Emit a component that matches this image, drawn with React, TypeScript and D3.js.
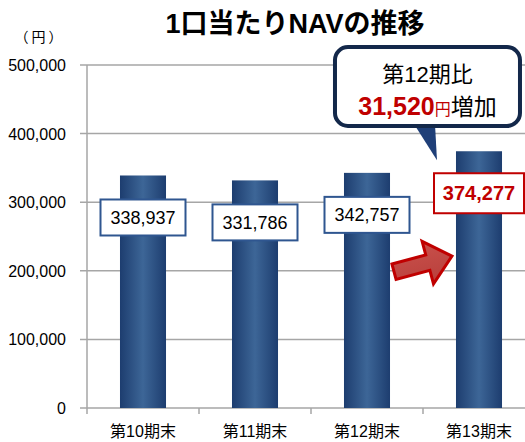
import React from "react";
import * as d3 from "d3";

const categories = ["第10期末", "第11期末", "第12期末", "第13期末"];
const navValues = [338937, 331786, 342757, 374277];
const yTicks = [0, 100000, 200000, 300000, 400000, 500000];
const highlightIndex = 3;
const diffValue = 31520;

const W = 525;
const H = 442;
const FONT = "'Liberation Sans', Arial, 'Noto Sans CJK JP', sans-serif";

export default function App() {
  const left = 87;
  const top = 65;
  const bottom = 408;

  const x = d3
    .scaleBand<string>()
    .domain(categories)
    .range([left, left + 448])
    .paddingInner(0.589)
    .paddingOuter(0.2945);

  const y = d3.scaleLinear().domain([0, 500000]).range([bottom, top]);
  const fmt = d3.format(",");
  const step = x.step();
  const bw = x.bandwidth();

  const hiCat = categories[highlightIndex];
  const hiX = x(hiCat)!;

  // arrow pointing at the last bar
  const arrowPath = "M-30,-8 L5,-8 L5,-22 L30,0 L5,22 L5,8 L-30,8 Z";
  const arrowCx = hiX - 33;
  const arrowCy = y(210000);

  // callout box
  const cb = { x: hiX - 121, y: 47, w: 185, h: 79, r: 13 };
  const tailTipX = hiX - 19;
  const tailTipY = y(374277) + 9;

  return (
    <svg
      width={W}
      height={H}
      style={{ position: "absolute", left: 0, top: 0, background: "#fff" }}
      fontFamily={FONT}
    >
      <defs>
        <linearGradient id="barGrad" x1="0" x2="1" y1="0" y2="0">
          <stop offset="0" stopColor="#1d3d6f" />
          <stop offset="0.5" stopColor="#3d6697" />
          <stop offset="1" stopColor="#1d3d6f" />
        </linearGradient>
        <linearGradient id="arrowGrad" x1="0" x2="0" y1="0" y2="1">
          <stop offset="0" stopColor="#c9504b" />
          <stop offset="1" stopColor="#b8403c" />
        </linearGradient>
      </defs>

      {/* title */}
      <text x={295} y={33} textAnchor="middle" fontSize={27} fontWeight="bold" fill="#000">
        1口当たりNAVの推移
      </text>
      <text
        x={40}
        y={42}
        textAnchor="middle"
        fontSize={14}
        fill="#000"
        fontFamily="'Noto Sans CJK JP', sans-serif"
        style={{ fontFeatureSettings: "'chws' 0, 'halt' 0, 'palt' 0", letterSpacing: "3px" }}
      >
        （円）
      </text>

      {/* gridlines + y axis */}
      {yTicks.map((t) => (
        <g key={t}>
          <line x1={left - 7} x2={W} y1={y(t)} y2={y(t)} stroke="#a6a6a6" strokeWidth={1.5} />
          <text x={66} y={y(t) + 6} textAnchor="end" fontSize={16} fill="#000">
            {fmt(t)}
          </text>
        </g>
      ))}
      <line x1={left} x2={left} y1={top} y2={bottom} stroke="#a6a6a6" strokeWidth={1.5} />
      {categories.map((c, i) => (
        <line
          key={"tk" + i}
          x1={left + i * step}
          x2={left + i * step}
          y1={bottom}
          y2={bottom + 6}
          stroke="#a6a6a6"
          strokeWidth={1.5}
        />
      ))}

      {/* bars */}
      {navValues.map((v, i) => (
        <rect
          key={"b" + i}
          x={x(categories[i])}
          y={y(v)}
          width={bw}
          height={bottom - y(v)}
          fill="url(#barGrad)"
        />
      ))}

      {/* x labels */}
      {categories.map((c) => (
        <text
          key={c}
          x={x(c)! + bw / 2}
          y={437}
          textAnchor="middle"
          fontSize={16}
          fill="#000"
        >
          {c}
        </text>
      ))}

      {/* value labels */}
      {navValues.map((v, i) => {
        const cx = x(categories[i])! + bw / 2;
        const cy = y(v) + 42;
        const hi = i === highlightIndex;
        const bwid = hi ? 90 : 85;
        const bh = hi ? 40 : 36;
        return (
          <g key={"l" + i}>
            <rect
              x={cx - bwid / 2}
              y={cy - bh / 2}
              width={bwid}
              height={bh}
              fill="#fff"
              stroke={hi ? "#c00000" : "#2f5690"}
              strokeWidth={2}
            />
            <text
              x={cx}
              y={cy + (hi ? 7 : 6.5)}
              textAnchor="middle"
              fontSize={hi ? 20 : 18}
              fontWeight={hi ? "bold" : "normal"}
              fill={hi ? "#c00000" : "#000"}
            >
              {fmt(v)}
            </text>
          </g>
        );
      })}

      {/* arrow */}
      <path
        d={arrowPath}
        transform={`translate(${arrowCx},${arrowCy}) rotate(-15)`}
        fill="url(#arrowGrad)"
        stroke="#c00000"
        strokeWidth={3}
        strokeLinejoin="miter"
      />

      {/* callout */}
      <path
        d={`M${tailTipX - 23},${cb.y + cb.h - 2} L${tailTipX - 2},${cb.y + cb.h - 2} L${tailTipX},${tailTipY} Z`}
        fill="#1f3f78"
      />
      <rect
        x={cb.x}
        y={cb.y}
        width={cb.w}
        height={cb.h}
        rx={cb.r}
        ry={cb.r}
        fill="#fff"
        stroke="#13284a"
        strokeWidth={4}
      />
      <text x={cb.x + cb.w / 2} y={cb.y + 35} textAnchor="middle" fontSize={22} fill="#000">
        第12期比
      </text>
      <text x={cb.x + cb.w / 2} y={cb.y + 68} textAnchor="middle" fill="#000">
        <tspan fontSize={25} fontWeight="bold" fill="#c00000">
          {fmt(diffValue)}
        </tspan>
        <tspan fontSize={16} fill="#c00000">
          円
        </tspan>
        <tspan fontSize={23} fill="#000">
          増加
        </tspan>
      </text>
    </svg>
  );
}
